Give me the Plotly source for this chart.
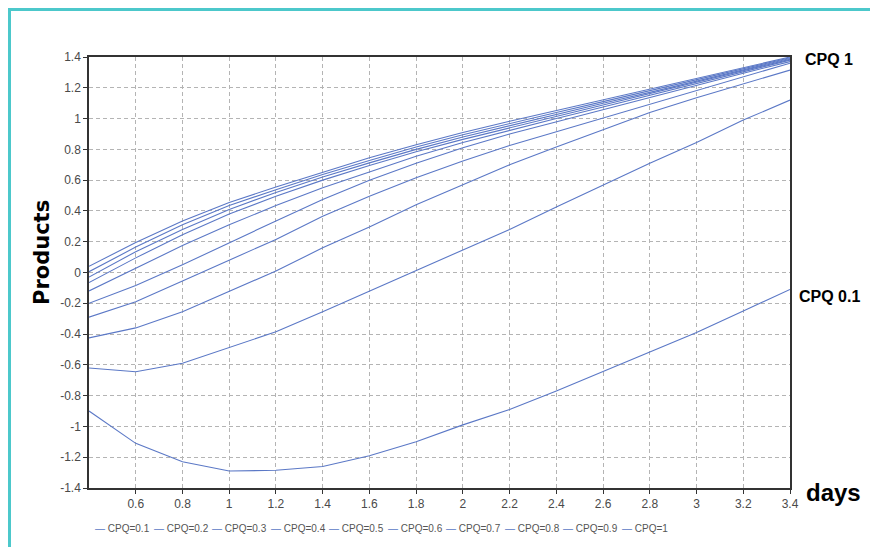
import plotly.graph_objects as go

# sampling times (days)
days = [0.4, 0.6, 0.8, 1.0, 1.2, 1.4, 1.6, 1.8, 2.0, 2.2, 2.4, 2.6, 2.8, 3.0, 3.2, 3.4]

# product level for each CPQ setting
products_cpq_0_1 = [-0.90, -1.11, -1.23, -1.29, -1.285, -1.26, -1.19, -1.10, -0.99, -0.89, -0.77, -0.645, -0.52, -0.39, -0.25, -0.11]
products_cpq_0_2 = [-0.62, -0.645, -0.59, -0.49, -0.385, -0.255, -0.12, 0.015, 0.15, 0.28, 0.425, 0.57, 0.71, 0.845, 0.99, 1.12]
products_cpq_0_3 = [-0.425, -0.36, -0.255, -0.125, 0.01, 0.16, 0.295, 0.44, 0.57, 0.70, 0.815, 0.93, 1.04, 1.135, 1.225, 1.315]
products_cpq_0_4 = [-0.29, -0.19, -0.055, 0.08, 0.215, 0.365, 0.495, 0.615, 0.725, 0.825, 0.915, 1.005, 1.095, 1.185, 1.27, 1.36]
products_cpq_0_5 = [-0.20, -0.085, 0.05, 0.195, 0.335, 0.475, 0.60, 0.71, 0.81, 0.90, 0.98, 1.06, 1.14, 1.215, 1.295, 1.37]
products_cpq_0_6 = [-0.12, 0.03, 0.175, 0.31, 0.435, 0.55, 0.655, 0.755, 0.845, 0.925, 1.0, 1.075, 1.15, 1.225, 1.30, 1.38]
products_cpq_0_7 = [-0.065, 0.095, 0.245, 0.38, 0.495, 0.60, 0.695, 0.785, 0.865, 0.94, 1.015, 1.09, 1.16, 1.235, 1.31, 1.385]
products_cpq_0_8 = [-0.03, 0.135, 0.28, 0.41, 0.52, 0.62, 0.712, 0.80, 0.88, 0.955, 1.03, 1.10, 1.17, 1.245, 1.32, 1.39]
products_cpq_0_9 = [0.005, 0.165, 0.31, 0.435, 0.538, 0.636, 0.728, 0.815, 0.895, 0.97, 1.04, 1.11, 1.18, 1.255, 1.325, 1.395]
products_cpq_1_0 = [0.04, 0.195, 0.335, 0.455, 0.556, 0.652, 0.745, 0.83, 0.91, 0.983, 1.053, 1.122, 1.19, 1.26, 1.33, 1.40]

series_names = ["CPQ=0.1", "CPQ=0.2", "CPQ=0.3", "CPQ=0.4", "CPQ=0.5",
                "CPQ=0.6", "CPQ=0.7", "CPQ=0.8", "CPQ=0.9", "CPQ=1"]
series_values = [products_cpq_0_1, products_cpq_0_2, products_cpq_0_3, products_cpq_0_4,
                 products_cpq_0_5, products_cpq_0_6, products_cpq_0_7, products_cpq_0_8,
                 products_cpq_0_9, products_cpq_1_0]

x_tick_vals = [0.6, 0.8, 1.0, 1.2, 1.4, 1.6, 1.8, 2.0, 2.2, 2.4, 2.6, 2.8, 3.0, 3.2, 3.4]
x_tick_text = ["0.6", "0.8", "1", "1.2", "1.4", "1.6", "1.8", "2", "2.2", "2.4", "2.6", "2.8", "3", "3.2", "3.4"]
y_tick_vals = [-1.4, -1.2, -1.0, -0.8, -0.6, -0.4, -0.2, 0.0, 0.2, 0.4, 0.6, 0.8, 1.0, 1.2, 1.4]
y_tick_text = ["-1.4", "-1.2", "-1", "-0.8", "-0.6", "-0.4", "-0.2", "0", "0.2", "0.4", "0.6", "0.8", "1", "1.2", "1.4"]

LINE_COLOR = "#5b78c6"
TICK_FONT = dict(family="Liberation Sans Narrow, Arial Narrow, sans-serif", size=12, color="#4a4a4a")
LABEL_FONT = "Liberation Sans Narrow, Arial Narrow, sans-serif"

W, H = 870, 547
M_L, M_R, M_T, M_B = 89, 80, 57, 59
PLOT_W = W - M_L - M_R
PLOT_H = H - M_T - M_B


def px_x(px):
    return (px - M_L) / PLOT_W


def px_y(py):
    return (H - M_B - py) / PLOT_H


fig = go.Figure()
for name, vals in zip(series_names, series_values):
    fig.add_trace(go.Scatter(x=days, y=vals, mode="lines", name=name,
                             line=dict(color=LINE_COLOR, width=1.1),
                             showlegend=False))

grid_common = dict(showgrid=True, gridcolor="#b4b4b4", griddash="4px,3px", gridwidth=1,
                   showline=True, linecolor="#333333", linewidth=1.5, mirror=True,
                   ticks="outside", ticklen=4, tickcolor="#333333", tickfont=TICK_FONT,
                   zeroline=False)

fig.update_xaxes(range=[0.4, 3.4], tickvals=x_tick_vals, ticktext=x_tick_text, **grid_common)
fig.update_yaxes(range=[-1.4, 1.4], tickvals=y_tick_vals, ticktext=y_tick_text, **grid_common)

annotations = [
    dict(text="<b>Products</b>", textangle=-90, x=px_x(42), y=px_y(253), xref="paper", yref="paper",
         xanchor="center", yanchor="middle", showarrow=False,
         font=dict(family="DejaVu Sans, sans-serif", size=21, color="#000000")),
    dict(text="<b>CPQ 1</b>", x=px_x(803), y=px_y(60), xref="paper", yref="paper",
         xanchor="left", yanchor="middle", showarrow=False,
         font=dict(family=LABEL_FONT, size=16, color="#000000")),
    dict(text="<b>CPQ 0.1</b>", x=px_x(797), y=px_y(296), xref="paper", yref="paper",
         xanchor="left", yanchor="middle", showarrow=False,
         font=dict(family=LABEL_FONT, size=16, color="#000000")),
    dict(text="<b>days</b>", x=px_x(804), y=px_y(492), xref="paper", yref="paper",
         xanchor="left", yanchor="middle", showarrow=False,
         font=dict(family=LABEL_FONT, size=24, color="#000000")),
]

# legend row drawn as text entries under the axis
for i, name in enumerate(series_names):
    annotations.append(dict(
        text=f"<span style='color:{LINE_COLOR}'>—</span> {name}",
        x=px_x(93 + i * 58.5), y=px_y(528), xref="paper", yref="paper",
        xanchor="left", yanchor="middle", showarrow=False,
        font=dict(family=LABEL_FONT, size=10, color="#555555")))

shapes = [
    dict(type="line", xref="paper", yref="paper", x0=px_x(9.5), x1=px_x(9.5), y0=px_y(8), y1=px_y(560),
         line=dict(color="#4cc8cb", width=3)),
    dict(type="line", xref="paper", yref="paper", x0=px_x(8), x1=px_x(875), y0=px_y(9.5), y1=px_y(9.5),
         line=dict(color="#4cc8cb", width=3)),
]

fig.update_layout(
    width=W, height=H,
    margin=dict(l=M_L, r=M_R, t=M_T, b=M_B),
    paper_bgcolor="#ffffff", plot_bgcolor="#ffffff",
    annotations=annotations, shapes=shapes,
    showlegend=False,
)

fig.write_html("out.html")
